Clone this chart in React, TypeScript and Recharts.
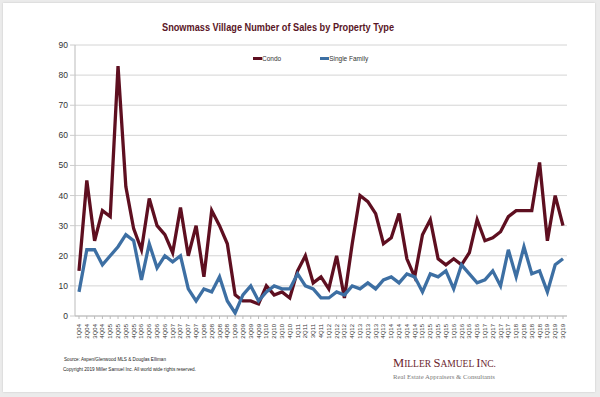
import { LineChart, Line, XAxis, YAxis, CartesianGrid, Legend } from "recharts";

const quarters = [
  "1Q04", "2Q04", "3Q04", "4Q04", "1Q05", "2Q05", "3Q05", "4Q05",
  "1Q06", "2Q06", "3Q06", "4Q06", "1Q07", "2Q07", "3Q07", "4Q07",
  "1Q08", "2Q08", "3Q08", "4Q08", "1Q09", "2Q09", "3Q09", "4Q09",
  "1Q10", "2Q10", "3Q10", "4Q10", "1Q11", "2Q11", "3Q11", "4Q11",
  "1Q12", "2Q12", "3Q12", "4Q12", "1Q13", "2Q13", "3Q13", "4Q13",
  "1Q14", "2Q14", "3Q14", "4Q14", "1Q15", "2Q15", "3Q15", "4Q15",
  "1Q16", "2Q16", "3Q16", "4Q16", "1Q17", "2Q17", "3Q17", "4Q17",
  "1Q18", "2Q18", "3Q18", "4Q18", "1Q19", "2Q19", "3Q19",
];

const condo = [
  15, 45, 25, 35, 33, 83, 43, 29,
  22, 39, 30, 27, 21, 36, 20, 30,
  13, 35, 30, 24, 7, 5, 5, 4,
  10, 7, 8, 6, 15, 20, 11, 13,
  9, 20, 6, 24, 40, 38, 34, 24,
  26, 34, 19, 13, 27, 32, 19, 17,
  19, 17, 21, 32, 25, 26, 28, 33,
  35, 35, 35, 51, 25, 40, 30,
];

const singleFamily = [
  8, 22, 22, 17, 20, 23, 27, 25,
  12, 24, 16, 20, 18, 20, 9, 5,
  9, 8, 13, 5, 1, 7, 10, 5,
  8, 10, 9, 9, 14, 10, 9, 6,
  6, 8, 7, 10, 9, 11, 9, 12,
  13, 11, 14, 13, 8, 14, 13, 15,
  9, 17, 14, 11, 12, 15, 10, 22,
  13, 23, 14, 15, 8, 17, 19,
];

const yTicks = [0, 10, 20, 30, 40, 50, 60, 70, 80, 90];

const CONDO = "#5e0f20";
const SINGLE = "#3d6fa3";

const data = quarters.map((q, i) => ({ q, condo: condo[i], single: singleFamily[i] }));

const QuarterTick = (props: any) => {
  const { x, y, payload } = props;
  return (
    <g transform={`translate(${x},${y + 3})`}>
      <text transform="rotate(-90)" textAnchor="end" dy={2} fontSize={6} fill="#333" fontFamily="Liberation Sans, Arial">
        {payload.value}
      </text>
    </g>
  );
};

const LegendBox = () => (
  <div style={{ display: "flex", fontFamily: "Liberation Sans, Arial", fontSize: 6.5, color: "#333" }}>
    <div style={{ display: "flex", alignItems: "center", marginRight: 39 }}>
      <span style={{ display: "inline-block", width: 9, height: 3, background: CONDO }} />
      <span>Condo</span>
    </div>
    <div style={{ display: "flex", alignItems: "center" }}>
      <span style={{ display: "inline-block", width: 9, height: 3, background: SINGLE }} />
      <span>Single Family</span>
    </div>
  </div>
);

export default function App() {
  return (
    <div style={{ position: "fixed", left: 0, top: 0, width: 600, height: 397, background: "#ebebeb" }}>
      <div style={{ position: "absolute", left: 3, top: 3, width: 592, height: 389, background: "#fff", boxShadow: "0 0 2px rgba(0,0,0,0.15)" }} />
      <div style={{ position: "absolute", left: 0, top: 0 }}>
        <LineChart width={600} height={397} data={data} margin={{ top: 45, right: 33, bottom: 44, left: 35 }}>
          <CartesianGrid vertical={false} stroke="#d4d4d4" />
          <XAxis
            dataKey="q"
            interval={0}
            height={30}
            padding={{ left: 4, right: 4 }}
            tick={<QuarterTick />}
            tickSize={3}
            tickLine={{ stroke: "#bbb" }}
            axisLine={{ stroke: "#bbb" }}
          />
          <YAxis
            domain={[0, 90]}
            ticks={yTicks}
            width={40}
            tickSize={5}
            tickLine={{ stroke: "#ccc" }}
            axisLine={{ stroke: "#bbb" }}
            tick={{ fontSize: 8.5, fill: "#333", fontFamily: "Liberation Sans, Arial" }}
          />
          <Legend content={<LegendBox />} wrapperStyle={{ position: "absolute", top: 55, left: 253, width: "auto" }} />
          <Line type="linear" dataKey="condo" stroke={CONDO} strokeWidth={3.3} dot={false} isAnimationActive={false} />
          <Line type="linear" dataKey="single" stroke={SINGLE} strokeWidth={3.3} dot={false} isAnimationActive={false} />
        </LineChart>
      </div>
      <svg width={600} height={397} style={{ position: "absolute", left: 0, top: 0, pointerEvents: "none" }}>
        <text x={162} y={31} fontSize={11.5} fontWeight="bold" fill="#5a1626" fontFamily="Liberation Sans, Arial" textLength={232} lengthAdjust="spacingAndGlyphs">
          Snowmass Village Number of Sales by Property Type
        </text>
        <text x={64} y={361} fontSize={5.8} fill="#222" fontFamily="Liberation Sans, Arial" textLength={102} lengthAdjust="spacingAndGlyphs">
          Source: Aspen/Glenwood MLS &amp; Douglas Elliman
        </text>
        <text x={63} y={371} fontSize={5.8} fill="#222" fontFamily="Liberation Sans, Arial" textLength={133} lengthAdjust="spacingAndGlyphs">
          Copyright 2019 Miller Samuel Inc.  All world wide rights reserved.
        </text>
        <text x={393} y={367} fill="#6b1e2e" fontFamily="Liberation Serif, serif" textLength={103} lengthAdjust="spacingAndGlyphs">
          <tspan fontSize={12.5}>M</tspan>
          <tspan fontSize={9.5}>ILLER </tspan>
          <tspan fontSize={12.5}>S</tspan>
          <tspan fontSize={9.5}>AMUEL </tspan>
          <tspan fontSize={12.5}>I</tspan>
          <tspan fontSize={9.5}>NC.</tspan>
        </text>
        <text x={393} y={379} fontSize={7} fill="#7a7a7a" fontFamily="Liberation Serif, serif" textLength={102} lengthAdjust="spacingAndGlyphs">
          Real Estate Appraisers &amp; Consultants
        </text>
      </svg>
    </div>
  );
}
